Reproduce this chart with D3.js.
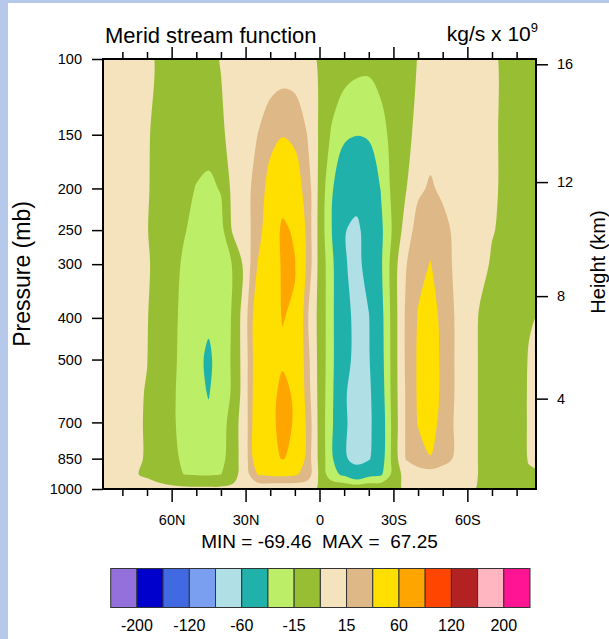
<!DOCTYPE html>
<meta charset="utf-8">
<style>

body {
  margin: 0;
  background: #fff;
}

svg {
  display: block;
  font-family: "Liberation Sans", Arial, Helvetica, sans-serif;
}

.frame {
  fill: none;
  stroke: #000;
  stroke-width: 2px;
}

.axis path.domain {
  display: none;
}

.axis line {
  stroke: #000;
  stroke-width: 1.5px;
}

.axis text {
  font-size: 14.5px;
  fill: #000;
}

.bar rect {
  stroke: #333;
  stroke-width: 1px;
}

</style>
<svg width="609" height="639"></svg>
<script src="https://cdn.jsdelivr.net/npm/d3@7"></script>
<script>

// latitude columns (N positive) and pressure rows (mb)
var lats = [90, 85, 80, 75, 70, 65, 60, 55, 50, 45, 40, 35, 30, 25, 20, 15, 10, 5, 0,
            -5, -10, -15, -20, -25, -30, -35, -40, -45, -50, -55, -60, -65, -70, -75, -80, -85, -90];
var levels = [100, 150, 200, 250, 300, 400, 500, 600, 700, 850, 925, 1000];

// meridional stream function, kg/s x 10^9, one row per level
var psi100  = [4,4,4,4,3,-2,-4,-5,-5,-3,0.5,2,3,4,5,6,5,3,-1,-4,-7,-10,-11,-9,-7,-3,0.3,2,3,3,3,2,1,-1,-2,-2,-2];
var psi150  = [3,3,3,3,1,-3,-6,-9,-10,-9,-2,4,9,15.2,24,29,27,15,-2,-17,-27,-29.5,-28,-20,-10,-4,4,9,8,5,4,3,1,-1,-2,-2,-2];
var psi200  = [3,3,3,3,1,-4,-9,-12,-15.5,-18,-14,5,12,19,38,50,38,24,-4,-28,-45,-52,-45,-29,-9.6,-1,12,17,12,8,5,3,1,-1,-2,-2,-2];
var psi250  = [3,3,3,2,0.5,-5,-10,-14,-19,-23,-20,3,10,22,45,64,57,25,-5,-30,-59,-64,-52,-33,-12,6,22,26,20,12,7,4,0.5,-1.5,-2,-2,-2];
var psi300  = [3,3,2,2,1,-3,-10,-17,-22,-25,-22,-14,5,31,50,62,61,26,-5,-25,-58,-66,-52,-32,-7,14,26,30.5,24,12,7,3,-1,-2,-3,-2,-2];
var psi400  = [3,3,2,1.5,0.5,-5,-12,-18,-24,-28,-24,-13,10,44,55,60.5,58,17,-5,-25,-56,-63,-61,-35,-8,17,31,42,23,14.5,7,-1,-5,-6,-4,-0.5,0.5];
var psi500  = [3,3,2,1.5,0.2,-5,-12,-19,-27,-32,-25,-12,9,44,54,58,56,20,-5,-25,-55,-64,-62,-36,-8,17,32,45,24,14.5,6,-1,-5,-5,-3,0.4,1.5];
var psi600  = [2,2,2,1.5,-0.5,-6,-13,-19,-27,-30.5,-25,-12,9,45,55,64,58,22,-5,-26,-58,-67,-65,-38,-8,16,32,45,24,14.5,6,-1,-5,-4,-2,0.4,1.5];
var psi700  = [2,2,1.5,1,-0.5,-6,-13,-19,-26,-28,-23,-6,8,48,54,67.25,58,26,-5,-27,-57,-68,-66,-40,-9,16,31,40,22,14,6,-1,-5,-4,-2,0.4,1.5];
var psi850  = [2,2,1.5,1,-0.5,-6,-12,-17,-22,-24,-20,-6,8,46,54,61,55,24,-4,-27,-56,-69.46,-63,-38,-9,15.5,24,29,22,13,6,-1,-4,-4,-2,0.3,1];
var psi925  = [1,1,1,0.5,-1,-4,-9,-15.2,-16,-16.5,-15.2,-5,8,31,33,34,32,24,-3,-25,-33,-45,-35,-32,-10,6,7,8,6,5,3,-0.5,-2,-2,-1,-0.5,-0.5];
var psi1000 = [3,3,3,3,3,3,3,3,3,3,3,3,3,3,3,3,3,3,-1,-2,-2,-2,-2,-2,-2,1,2,2,2,2,2,-1,-2,-2,-2,-2,-2];
var psi = [psi100, psi150, psi200, psi250, psi300, psi400, psi500, psi600, psi700, psi850, psi925, psi1000];

var contourLevels = [-200, -160, -120, -90, -60, -30, -15, 0, 15, 30, 60, 90, 120, 160, 200];
var fillColors = ["#9370db", "#0000cd", "#4169e1", "#7a9ff0", "#b0e0e6", "#20b2aa", "#bcee68", "#98bf33",
                  "#f4e3bd", "#deb887", "#ffdf00", "#ffa500", "#ff4500", "#b22222", "#ffb6c1", "#ff1493"];
var barLabels = ["-200", "-120", "-60", "-15", "15", "60", "120", "200"];

var pTicks = [100, 150, 200, 250, 300, 400, 500, 700, 850, 1000];
var hTicks = [4, 8, 12, 16];
var latMajor = [60, 30, 0, -30, -60];
var latMinor = [80, 70, 50, 40, 20, 10, -10, -20, -40, -50, -70, -80];

var svg = d3.select("svg"),
    margin = {top: 59, right: 73, bottom: 150, left: 103},
    width = +svg.attr("width") - margin.left - margin.right,
    height = +svg.attr("height") - margin.top - margin.bottom;

// page edge strips
svg.append("rect").attr("width", 8).attr("height", 639).attr("fill", "#b6c9ea");
svg.append("rect").attr("width", 609).attr("height", 3).attr("fill", "#b6c9ea");

var x = d3.scaleLinear().domain([87.86, -87.86]).range([0, width]);
var y = d3.scaleLog().domain([100, 1000]).range([0, height]);

// standard atmosphere, km -> mb
function stdPres(z) {
  if (z <= 11) return 1013.25 * Math.pow(1 - 0.0065 * z * 1000 / 288.15, 5.25588);
  return 226.32 * Math.exp(-(z - 11) * 1000 / 6341.62);
}

var g = svg.append("g").attr("transform", "translate(" + margin.left + "," + margin.top + ")");

g.append("clipPath").attr("id", "clip")
  .append("rect").attr("width", width).attr("height", height);

var values = [].concat.apply([], psi);
var contours = d3.contours()
    .size([lats.length, levels.length])
    .thresholds(contourLevels)(values);

// grid index -> plot coordinates (contour points sit half a cell off the index)
var gx = d3.scaleLinear().domain([0, lats.length - 1]).range([x(lats[0]), x(lats[lats.length - 1])]);
var gy = d3.scaleLinear().domain(d3.range(levels.length)).range(levels.map(y));

var ring = d3.line().curve(d3.curveCatmullRomClosed.alpha(0.5));
function contourPath(d) {
  return d.coordinates.map(function(poly) {
    return poly.map(function(r) {
      return ring(r.slice(0, -1).map(function(p) { return [gx(p[0] - 0.5), gy(p[1] - 0.5)]; }));
    }).join("");
  }).join("");
}

var field = g.append("g").attr("clip-path", "url(#clip)");
field.append("rect").attr("width", width).attr("height", height).attr("fill", fillColors[0]);
field.selectAll("path")
  .data(contours)
  .enter().append("path")
    .attr("d", contourPath)
    .attr("fill", function(d, i) { return fillColors[i + 1]; });

// axes
function latFmt(d) { return d > 0 ? d + "N" : d < 0 ? (-d) + "S" : "0"; }

g.append("g").attr("class", "axis")
  .attr("transform", "translate(0," + height + ")")
  .call(d3.axisBottom(x).tickValues(latMajor).tickFormat(latFmt).tickSize(13).tickSizeOuter(0).tickPadding(13));
g.append("g").attr("class", "axis")
  .attr("transform", "translate(0," + height + ")")
  .call(d3.axisBottom(x).tickValues(latMinor).tickFormat("").tickSize(7).tickSizeOuter(0));
g.append("g").attr("class", "axis")
  .call(d3.axisTop(x).tickValues(latMajor).tickFormat("").tickSize(12).tickSizeOuter(0));
g.append("g").attr("class", "axis")
  .call(d3.axisTop(x).tickValues(latMinor).tickFormat("").tickSize(7).tickSizeOuter(0));

g.append("g").attr("class", "axis")
  .call(d3.axisLeft(y).tickValues(pTicks).tickFormat(d3.format("d")).tickSize(11).tickSizeOuter(0).tickPadding(10));

g.append("g").attr("class", "axis")
  .attr("transform", "translate(" + width + ",0)")
  .call(d3.axisRight(y).tickValues(hTicks.map(stdPres)).tickFormat(function(d, i) { return hTicks[i]; })
    .tickSize(12).tickSizeOuter(0).tickPadding(9));

g.append("rect").attr("class", "frame").attr("width", width).attr("height", height);

// titles
svg.append("text")
  .attr("x", 105).attr("y", 43)
  .style("font-size", "22px")
  .text("Merid stream function");

var units = svg.append("text")
  .attr("x", 538).attr("y", 41)
  .attr("text-anchor", "end")
  .style("font-size", "21px");
units.append("tspan").text("kg/s x 10");
units.append("tspan").attr("dy", -9).style("font-size", "13px").text("9");

svg.append("text")
  .attr("transform", "translate(22," + (margin.top + height / 2) + ")rotate(-90)")
  .attr("dy", "0.35em")
  .attr("text-anchor", "middle")
  .style("font-size", "23px")
  .text("Pressure (mb)");

svg.append("text")
  .attr("transform", "translate(598,262)rotate(-90)")
  .attr("dy", "0.35em")
  .attr("text-anchor", "middle")
  .style("font-size", "20px")
  .text("Height (km)");

svg.append("text")
  .attr("x", margin.left + width / 2).attr("y", 548)
  .attr("text-anchor", "middle")
  .style("font-size", "19px")
  .style("white-space", "pre")
  .text("MIN = " + d3.min(values).toFixed(2) + "  MAX =  " + d3.max(values).toFixed(2));

// label bar
var bx = d3.scaleLinear().domain([0, fillColors.length]).range([110.7, 530]);
var bar = svg.append("g").attr("class", "bar");
bar.selectAll("rect")
  .data(fillColors)
  .enter().append("rect")
    .attr("x", function(d, i) { return bx(i); })
    .attr("y", 568.5)
    .attr("width", bx(1) - bx(0))
    .attr("height", 39)
    .attr("fill", function(d) { return d; });
bar.selectAll("text")
  .data(barLabels)
  .enter().append("text")
    .attr("x", function(d, i) { return bx(2 * i + 1); })
    .attr("y", 631)
    .attr("text-anchor", "middle")
    .style("font-size", "16px")
    .text(function(d) { return d; });

</script>
